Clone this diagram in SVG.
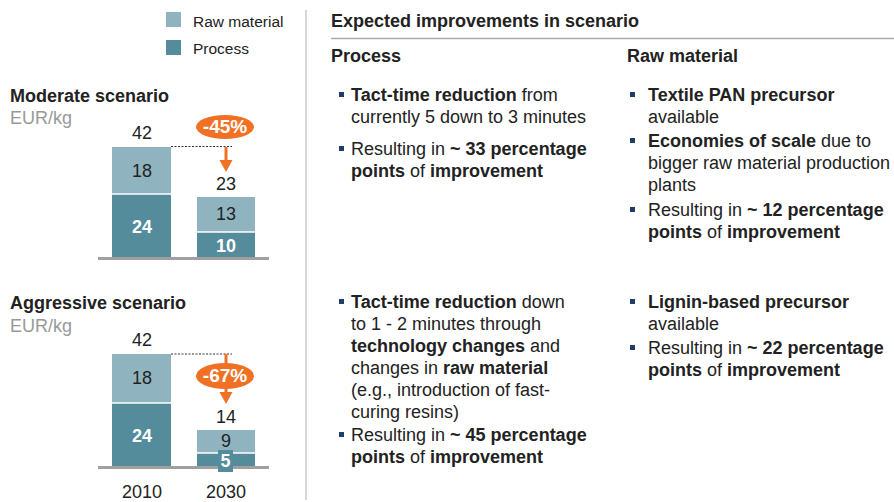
<svg xmlns="http://www.w3.org/2000/svg" width="894" height="502" viewBox="0 0 894 502">
<style>
text{font-family:"Liberation Sans",Arial,sans-serif;fill:#222}
.b{font-weight:bold}
.t18{font-size:18px}
.leg{font-size:15.5px}
.unit{font-size:18px;fill:#999}
.num{font-size:18px;text-anchor:middle}
.numw{font-size:18px;text-anchor:middle;font-weight:bold;fill:#fff}
.pct{font-size:19px;text-anchor:middle;font-weight:bold;fill:#fff}
.light{fill:#8fb4bf}
.dark{fill:#548c9b}
.sep{stroke:#fff;stroke-width:1.5}
.axis{stroke:#a0a0a0;stroke-width:3}
.dash{stroke:#333;stroke-width:1;stroke-dasharray:2,1.5;fill:none}
.orange{fill:#f07124}
.oline{stroke:#f07124;stroke-width:3}
.bul{fill:#1f3d6b}
</style>

<g id="legend">
<rect x="166" y="12" width="15" height="15" class="light"/>
<text x="193" y="27" class="leg">Raw material</text>
<rect x="166" y="40" width="15" height="15" class="dark"/>
<text x="193" y="54" class="leg">Process</text>
</g>

<line x1="306" y1="10" x2="306" y2="500" stroke="#c8c8c8" stroke-width="1.5"/>

<g id="moderate-chart">
<text x="10" y="102" class="t18 b">Moderate scenario</text>
<text x="10" y="124" class="unit">EUR/kg</text>
<rect x="112" y="147" width="59" height="47" class="light"/>
<rect x="112" y="194" width="59" height="63" class="dark"/>
<line x1="112" y1="194" x2="171" y2="194" class="sep"/>
<rect x="197" y="197" width="58" height="35" class="light"/>
<rect x="197" y="232" width="58" height="25" class="dark"/>
<line x1="197" y1="232" x2="255" y2="232" class="sep"/>
<line x1="98" y1="258.5" x2="269" y2="258.5" class="axis"/>
<text x="142" y="139" class="num">42</text>
<text x="142" y="177" class="num">18</text>
<text x="142" y="233" class="numw">24</text>
<text x="226" y="190" class="num">23</text>
<text x="226" y="220" class="num">13</text>
<text x="226" y="252" class="numw">10</text>
</g>

<g id="aggressive-chart">
<text x="10" y="309" class="t18 b">Aggressive scenario</text>
<text x="10" y="332" class="unit">EUR/kg</text>
<rect x="112" y="354" width="59" height="49" class="light"/>
<rect x="112" y="403" width="59" height="63" class="dark"/>
<line x1="112" y1="403" x2="171" y2="403" class="sep"/>
<rect x="197" y="430" width="58" height="23" class="light"/>
<rect x="197" y="453" width="58" height="13" class="dark"/>
<line x1="197" y1="453" x2="255" y2="453" class="sep"/>
<line x1="98" y1="467.5" x2="269" y2="467.5" class="axis"/>
<rect x="218" y="450" width="15" height="22" class="dark"/>
<text x="142" y="346" class="num">42</text>
<text x="142" y="384" class="num">18</text>
<text x="142" y="442" class="numw">24</text>
<text x="226" y="423" class="num">14</text>
<text x="226" y="447" class="num">9</text>
<text x="225.5" y="467" class="numw">5</text>
<text x="142" y="498" class="num">2010</text>
<text x="226" y="498" class="num">2030</text>
</g>

<g id="connectors">
<line x1="171" y1="146.5" x2="232" y2="146.5" class="dash"/>
<line x1="226" y1="147" x2="226" y2="162" class="oline"/>
<polygon points="219.5,160 232.5,160 226,172" class="orange"/>
<line x1="171" y1="354" x2="232" y2="354" class="dash"/>
<line x1="226" y1="354" x2="226" y2="364" class="oline"/>
<line x1="226" y1="386" x2="226" y2="394" class="oline"/>
<polygon points="219.5,392 232.5,392 226,404" class="orange"/>
</g>

<g id="badge-45">
<ellipse cx="225" cy="127" rx="29" ry="12" class="orange"/>
<text x="225" y="133" class="pct">-45%</text>
</g>
<g id="badge-67">
<ellipse cx="225" cy="376" rx="29" ry="13" class="orange"/>
<text x="225" y="382" class="pct">-67%</text>
</g>

<g id="header">
<text x="331" y="27" class="t18 b">Expected improvements in scenario</text>
<line x1="331" y1="38.5" x2="894" y2="38.5" stroke="#aaa" stroke-width="1.5"/>
<text x="331" y="62" class="t18 b">Process</text>
<text x="627" y="62" class="t18 b">Raw material</text>
</g>

<g id="moderate-process">
<rect x="339" y="92" width="5" height="5" class="bul"/>
<text x="351" y="101" class="t18"><tspan class="b">Tact-time reduction</tspan> from</text>
<text x="351" y="123" class="t18">currently 5 down to 3 minutes</text>
<rect x="339" y="146" width="5" height="5" class="bul"/>
<text x="351" y="155" class="t18">Resulting in <tspan class="b">~ 33 percentage</tspan></text>
<text x="351" y="177" class="t18"><tspan class="b">points</tspan> of <tspan class="b">improvement</tspan></text>
</g>

<g id="moderate-raw">
<rect x="630" y="92" width="5" height="5" class="bul"/>
<text x="648" y="101" class="t18 b">Textile PAN precursor</text>
<text x="648" y="123" class="t18">available</text>
<rect x="630" y="138" width="5" height="5" class="bul"/>
<text x="648" y="147" class="t18"><tspan class="b">Economies of scale</tspan> due to</text>
<text x="648" y="169" class="t18">bigger raw material production</text>
<text x="648" y="191" class="t18">plants</text>
<rect x="630" y="207" width="5" height="5" class="bul"/>
<text x="648" y="216" class="t18">Resulting in <tspan class="b">~ 12 percentage</tspan></text>
<text x="648" y="238" class="t18"><tspan class="b">points</tspan> of <tspan class="b">improvement</tspan></text>
</g>

<g id="aggressive-process">
<rect x="339" y="299" width="5" height="5" class="bul"/>
<text x="351" y="308" class="t18"><tspan class="b">Tact-time reduction</tspan> down</text>
<text x="351" y="330" class="t18">to 1 - 2 minutes through</text>
<text x="351" y="352" class="t18"><tspan class="b">technology changes</tspan> and</text>
<text x="351" y="374" class="t18">changes in <tspan class="b">raw material</tspan></text>
<text x="351" y="396" class="t18">(e.g., introduction of fast-</text>
<text x="351" y="418" class="t18">curing resins)</text>
<rect x="339" y="432" width="5" height="5" class="bul"/>
<text x="351" y="441" class="t18">Resulting in <tspan class="b">~ 45 percentage</tspan></text>
<text x="351" y="463" class="t18"><tspan class="b">points</tspan> of <tspan class="b">improvement</tspan></text>
</g>

<g id="aggressive-raw">
<rect x="630" y="299" width="5" height="5" class="bul"/>
<text x="648" y="308" class="t18 b">Lignin-based precursor</text>
<text x="648" y="330" class="t18">available</text>
<rect x="630" y="345" width="5" height="5" class="bul"/>
<text x="648" y="354" class="t18">Resulting in <tspan class="b">~ 22 percentage</tspan></text>
<text x="648" y="376" class="t18"><tspan class="b">points</tspan> of <tspan class="b">improvement</tspan></text>
</g>
</svg>
